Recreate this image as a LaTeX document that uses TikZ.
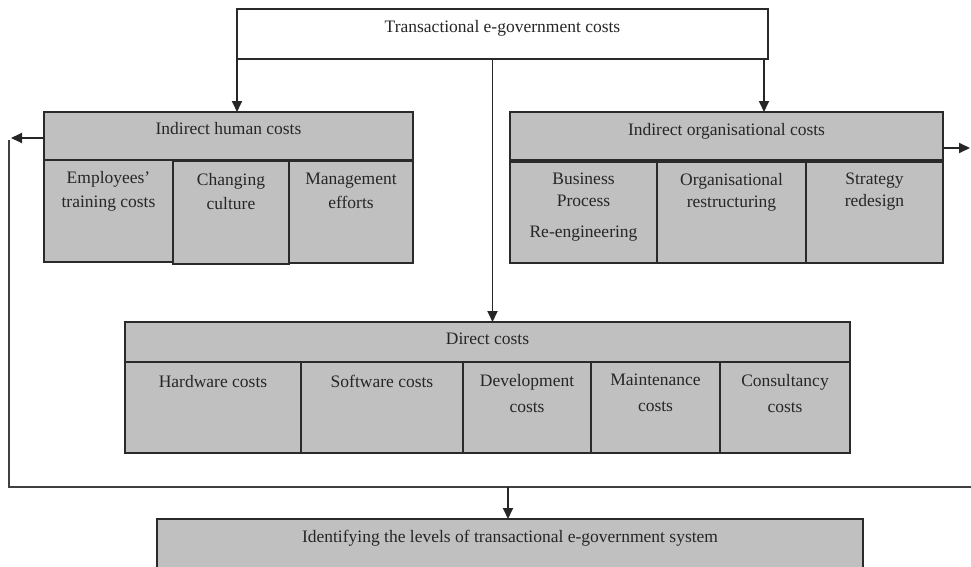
\documentclass[tikz,border=0pt]{standalone}
\usepackage{fontspec}
\setmainfont{Liberation Serif}
\usetikzlibrary{arrows.meta,calc}
\definecolor{cellgray}{HTML}{C0C0C0}
\definecolor{edge}{HTML}{2A2A2A}
\begin{document}
\begin{tikzpicture}[x=1pt,y=-1pt,
  box/.style={draw=edge, line width=1.6pt, fill=cellgray, anchor=north west, inner sep=0pt, outer sep=0pt},
  lbl/.style={font=\fontsize{17.5}{24}\selectfont, align=center, inner sep=0pt, text=black!85},
  one/.style={lbl, anchor=base},
  multi/.style={lbl, anchor=north},
  conn/.style={line width=1.8pt, draw=black!85},
  arr/.style={conn, -{Triangle[length=11pt,width=10pt]}}]
\useasboundingbox (0,0) rectangle (971,566);
\clip (0,0) rectangle (971,566);

% top box
\node[box, fill=white, minimum width=531pt, minimum height=50pt] (top) at (237,9) {};
\node[one] (toptxt) at (502.5,32) {Transactional e-government costs};

% indirect human costs
\node[box, minimum width=369pt, minimum height=48pt] (ih) at (44,112) {};
\node[one] (ihtxt) at (228.5,134) {Indirect human costs};
\node[box, minimum width=129pt, minimum height=102pt] (ih1) at (44,160) {};
\node[box, minimum width=116pt, minimum height=103pt] (ih2) at (173,161) {};
\node[box, minimum width=124pt, minimum height=102pt] (ih3) at (289,161) {};
\node[multi] (ih1t) at (108.5,171) {Employees'\\training costs};
\node[multi] (ih2t) at (231,173) {Changing\\culture};
\node[multi] (ih3t) at (351,173) {Management\\efforts};

% indirect organisational costs
\node[box, minimum width=433pt, minimum height=48pt] (io) at (510,112) {};
\node[one] (iotxt) at (726.5,135) {Indirect organisational costs};
\node[box, minimum width=147pt, minimum height=101pt] (io1) at (510,162) {};
\node[box, minimum width=149pt, minimum height=101pt] (io2) at (657,162) {};
\node[box, minimum width=137pt, minimum height=101pt] (io3) at (806,162) {};
\node[multi, font=\fontsize{17.5}{22}\selectfont] (io1t) at (583.5,173) {Business\\Process\\[9pt]Re-engineering};
\node[multi, font=\fontsize{17.5}{22}\selectfont] (io2t) at (731.5,173) {Organisational\\restructuring};
\node[multi, font=\fontsize{17.5}{22}\selectfont] (io3t) at (874.5,173) {Strategy\\redesign};

% direct costs
\node[box, minimum width=725pt, minimum height=40pt] (dc) at (125,322) {};
\node[one] (dctxt) at (487.5,344) {Direct costs};
\node[box, minimum width=176pt, minimum height=91pt] (dc1) at (125,362) {};
\node[box, minimum width=162pt, minimum height=91pt] (dc2) at (301,362) {};
\node[box, minimum width=128pt, minimum height=91pt] (dc3) at (463,362) {};
\node[box, minimum width=129pt, minimum height=91pt] (dc4) at (591,362) {};
\node[box, minimum width=130pt, minimum height=91pt] (dc5) at (720,362) {};
\node[one] (dc1t) at (213,387) {Hardware costs};
\node[one] (dc2t) at (382,387) {Software costs};
\node[multi, font=\fontsize{17.5}{26}\selectfont] (dc3t) at (527,374) {Development\\costs};
\node[multi, font=\fontsize{17.5}{26}\selectfont] (dc4t) at (655.5,374) {Maintenance\\costs};
\node[multi, font=\fontsize{17.5}{26}\selectfont] (dc5t) at (785,374) {Consultancy\\costs};

% bottom box
\node[box, minimum width=706pt, minimum height=60pt] (idl) at (157,519) {};
\node[one] (idltxt) at (510,542) {Identifying the levels of transactional e-government system};

% connectors
\draw[arr] (top.south west) -- (top.south west |- ih.north);
\coordinate (tr) at ($(top.south east)+(-4,0)$);
\draw[arr] (tr) -- (tr |- io.north);
\coordinate (tc) at ($(top.south)+(-10,0)$);
\draw[arr] (tc) -- (tc |- dc.north);

\coordinate (lA) at (11,138);
\draw[arr] (ih.west |- lA) -- (lA);
\coordinate (lTop) at (9,140);
\coordinate (lBot) at (9,487);
\coordinate (rEdge) at (971,487);
\draw[conn, line width=2pt, draw=black!75] (lTop) -- (lBot) -- (rEdge);

\coordinate (rA) at (970,148);
\draw[arr] (io.east |- rA) -- (rA);

\coordinate (bA) at (508,487);
\draw[arr] (bA) -- (bA |- idl.north);
\end{tikzpicture}
\end{document}
